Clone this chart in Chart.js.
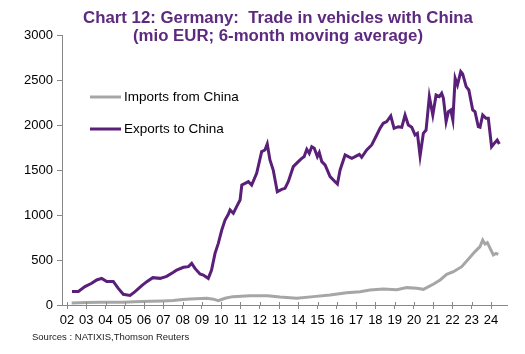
<!DOCTYPE html>
<html>
<head>
<meta charset="utf-8">
<script src="https://cdn.jsdelivr.net/npm/chart.js@4.4.1/dist/chart.umd.min.js"></script>
<style>
  html, body { margin: 0; padding: 0; background: #fff; }
  #wrap { width: 525px; height: 354px; position: relative; }
</style>
</head>
<body>
<div id="wrap"><canvas id="tradeChart" width="525" height="354"></canvas></div>
<script>
// Monthly 6-month moving averages, mio EUR
const exportYears = [2002.26, 2002.59, 2002.93, 2003.28, 2003.54, 2003.8, 2004.06, 2004.4, 2004.66, 2004.92,
  2005.27, 2005.53, 2005.88, 2006.14, 2006.45, 2006.83, 2007.17, 2007.52, 2007.69, 2008.04,
  2008.3, 2008.47, 2008.64, 2008.9, 2009.07, 2009.33, 2009.5, 2009.68, 2009.85, 2010.03,
  2010.2, 2010.37, 2010.46, 2010.63, 2010.8, 2010.98, 2011.07, 2011.24, 2011.41, 2011.58,
  2011.84, 2012.1, 2012.27, 2012.39, 2012.53, 2012.7, 2012.91, 2013.14, 2013.31, 2013.48,
  2013.74, 2014.0, 2014.18, 2014.3, 2014.44, 2014.57, 2014.7, 2014.83, 2014.99, 2015.09,
  2015.22, 2015.39, 2015.65, 2015.91, 2016.03, 2016.17, 2016.43, 2016.6, 2016.78, 2016.95,
  2017.17, 2017.29, 2017.55, 2017.81, 2018.07, 2018.24, 2018.41, 2018.59, 2018.8, 2018.97,
  2019.19, 2019.37, 2019.54, 2019.71, 2019.89, 2020.06, 2020.18, 2020.32, 2020.49, 2020.63,
  2020.8, 2020.98, 2021.15, 2021.32, 2021.44, 2021.53, 2021.67, 2021.79, 2021.91, 2022.02,
  2022.14, 2022.26, 2022.43, 2022.53, 2022.71, 2022.85, 2023.05, 2023.17, 2023.34, 2023.43,
  2023.57, 2023.74, 2023.86, 2024.03, 2024.2, 2024.32, 2024.43];
const exportValues = [150, 150, 204, 241, 278, 296, 262, 262, 185, 119,
  107, 148, 215, 259, 304, 296, 318, 363, 389, 419,
  426, 463, 407, 344, 333, 296, 389, 574, 685, 833,
  944, 1007, 1056, 1019, 1093, 1167, 1333, 1352, 1370, 1333,
  1463, 1704, 1722, 1789, 1611, 1500, 1259, 1285, 1296, 1370,
  1537, 1593, 1630, 1648, 1730, 1685, 1759, 1741, 1648, 1693,
  1593, 1556, 1426, 1370, 1344, 1500, 1667, 1648, 1630, 1648,
  1674, 1641, 1722, 1778, 1889, 1963, 2019, 2037, 2100, 1963,
  1981, 1974, 2111, 2000, 1974, 1889, 1907, 1656, 1907, 1944,
  2315, 2111, 2333, 2315, 2352, 2296, 2037, 2148, 2167, 2056,
  2519, 2444, 2593, 2567, 2426, 2389, 2167, 2148, 1981, 1974,
  2111, 2074, 2074, 1759, 1804, 1833, 1789];

const importYears = [2002.24, 2003.0, 2003.7, 2004.9, 2005.5, 2006.3, 2007.0, 2007.5, 2008.0, 2008.4,
  2009.25, 2009.6, 2009.85, 2010.2, 2010.6, 2011.5, 2012.4, 2013.05, 2013.92, 2014.78,
  2015.65, 2016.51, 2017.2, 2017.72, 2018.41, 2019.11, 2019.63, 2020.15, 2020.49, 2021.0,
  2021.36, 2021.7, 2022.05, 2022.48, 2022.82, 2023.17, 2023.43, 2023.57, 2023.69, 2023.81,
  2023.98, 2024.12, 2024.26, 2024.38];
const importValues = [22, 28, 30, 30, 35, 41, 45, 50, 60, 67,
  74, 65, 48, 75, 93, 104, 104, 90, 76, 93,
  111, 137, 148, 167, 178, 170, 193, 185, 174, 230,
  278, 341, 370, 426, 507, 593, 648, 722, 678, 693,
  619, 556, 574, 563];

const yearTicks = [2002, 2003, 2004, 2005, 2006, 2007, 2008, 2009, 2010, 2011, 2012, 2013,
  2014, 2015, 2016, 2017, 2018, 2019, 2020, 2021, 2022, 2023, 2024];

const titleLines = ["Chart 12: Germany:  Trade in vehicles with China", "(mio EUR; 6-month moving average)"];
const sourceText = "Sources : NATIXIS,Thomson Reuters";

const purple = "#5a1f79";
const grey = "#a6a6a6";

const toPoints = (xs, ys) => xs.map((x, i) => ({ x: x, y: ys[i] }));

// title, inline legend and source note
const decorations = {
  id: "decorations",
  afterDraw(chart) {
    const c = chart.ctx;
    c.save();
    c.fillStyle = "#5c2a7e";
    c.font = "bold 16.8px 'Liberation Sans', Arial, sans-serif";
    c.textAlign = "center";
    c.textBaseline = "middle";
    c.fillText(titleLines[0], 278, 18);
    c.fillText(titleLines[1], 278, 36);

    c.textAlign = "left";
    c.font = "13.5px 'Liberation Sans', Arial, sans-serif";
    const legendY = [97, 129];
    chart.data.datasets.forEach((ds, i) => {
      c.strokeStyle = ds.borderColor;
      c.lineWidth = 3;
      c.beginPath();
      c.moveTo(90, legendY[i]);
      c.lineTo(121, legendY[i]);
      c.stroke();
      c.fillStyle = "#000";
      c.fillText(ds.label, 124, legendY[i]);
    });

    c.font = "9.5px 'Liberation Sans', Arial, sans-serif";
    c.fillStyle = "#222";
    c.fillText(sourceText, 32, 337);

    // x tick marks also poke a little above the axis line
    const xs = chart.scales.x;
    const base = chart.chartArea.bottom;
    c.strokeStyle = "#888";
    c.lineWidth = 1;
    yearTicks.forEach(v => {
      const px = Math.round(xs.getPixelForValue(v)) + 0.5;
      c.beginPath();
      c.moveTo(px, base - 3);
      c.lineTo(px, base);
      c.stroke();
    });
    c.restore();
  }
};

new Chart(document.getElementById("tradeChart"), {
  type: "line",
  data: {
    datasets: [
      {
        label: "Imports from China",
        data: toPoints(importYears, importValues),
        borderColor: grey,
        borderWidth: 3,
        pointRadius: 0,
        tension: 0
      },
      {
        label: "Exports to China",
        data: toPoints(exportYears, exportValues),
        borderColor: purple,
        borderWidth: 3,
        pointRadius: 0,
        tension: 0
      }
    ]
  },
  options: {
    responsive: false,
    animation: false,
    layout: { padding: { top: 35, right: 18, bottom: 0, left: 0 } },
    plugins: { legend: { display: false }, tooltip: { enabled: false } },
    scales: {
      x: {
        type: "linear",
        min: 2001.74,
        max: 2024.83,
        afterBuildTicks: axis => { axis.ticks = yearTicks.map(v => ({ value: v })); },
        afterFit: axis => { axis.height = 49; },
        grid: { drawOnChartArea: false, tickLength: 4, color: "#888" },
        border: { color: "#888", width: 1 },
        ticks: {
          autoSkip: false,
          maxRotation: 0,
          padding: 4,
          color: "#000",
          font: { family: "'Liberation Sans', Arial, sans-serif", size: 13 },
          callback: v => String(v % 100).padStart(2, "0")
        }
      },
      y: {
        min: 0,
        max: 3000,
        afterFit: axis => { axis.width = 62; },
        grid: { drawOnChartArea: false, tickLength: 5, color: "#888" },
        border: { color: "#888", width: 1 },
        ticks: {
          stepSize: 500,
          padding: 4,
          color: "#000",
          font: { family: "'Liberation Sans', Arial, sans-serif", size: 13 },
          callback: v => String(v)
        }
      }
    }
  },
  plugins: [decorations]
});
</script>
</body>
</html>
